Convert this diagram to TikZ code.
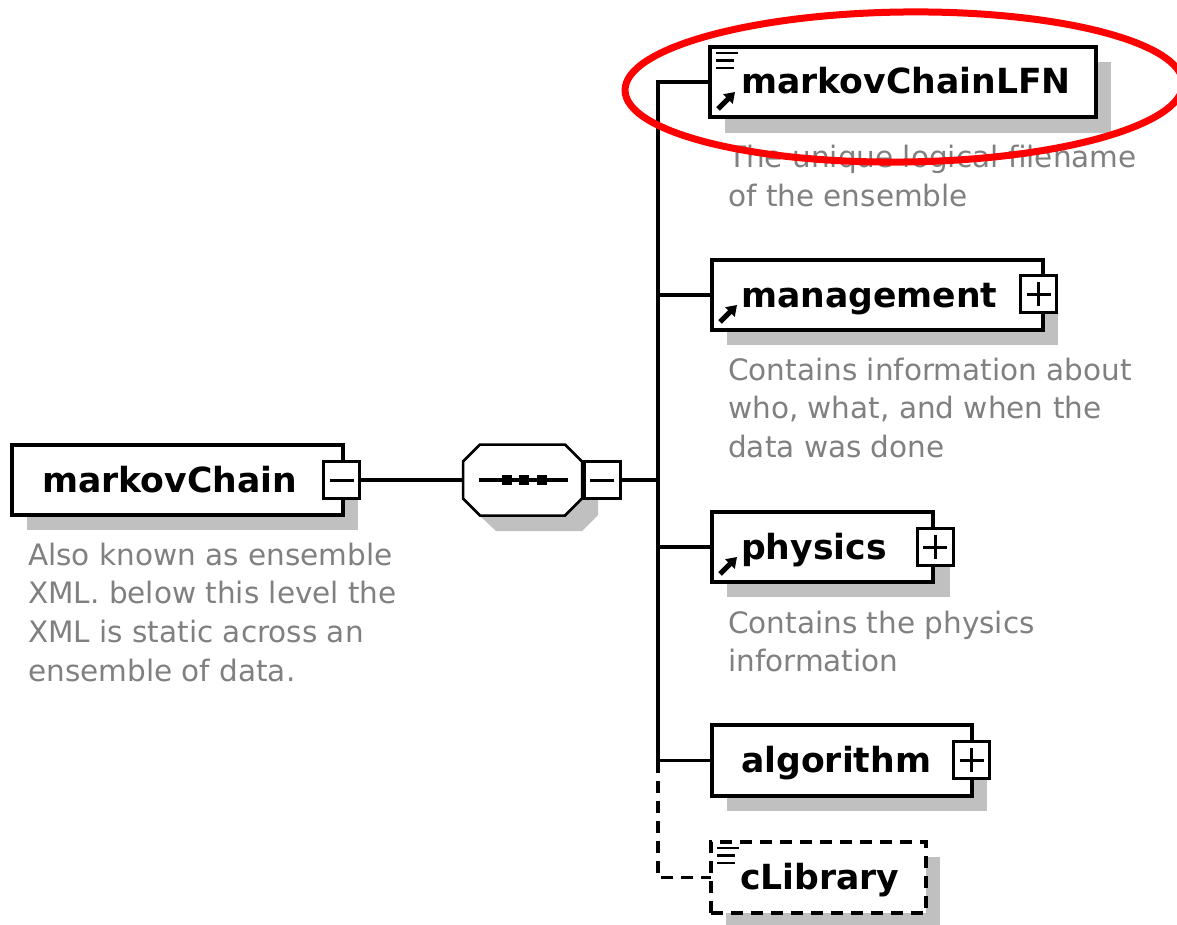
\documentclass[tikz,border=0pt]{standalone}
\usepackage{fontspec}
\setmainfont{DejaVu Sans}
\usetikzlibrary{arrows.meta}
\definecolor{shadowgray}{HTML}{C0C0C0}
\definecolor{descgray}{HTML}{808080}
\begin{document}
\begin{tikzpicture}[x=1pt,y=-1pt,
  elbox/.style={draw, fill=white, line width=3.3pt, anchor=north west, inner sep=0pt, outer sep=0pt},
  optbox/.style={elbox, dash pattern=on 12pt off 8pt},
  elname/.style={font=\fontsize{34.6}{40}\selectfont\bfseries, anchor=base west, inner sep=0pt},
  desc/.style={font=\fontsize{29.5}{38.7}\selectfont, text=descgray, anchor=north west, align=left, inner sep=0pt},
  pmbox/.style={draw, fill=white, line width=3pt, minimum width=36pt, minimum height=37pt, inner sep=0pt, outer sep=0pt},
  minusbox/.style={pmbox, path picture={\draw[line width=3pt] ([xshift=-12pt]path picture bounding box.center) -- ([xshift=12pt]path picture bounding box.center);}},
  plusbox/.style={pmbox, path picture={\draw[line width=3pt] ([xshift=-12pt]path picture bounding box.center) -- ([xshift=12pt]path picture bounding box.center) ([yshift=-12pt]path picture bounding box.center) -- ([yshift=12pt]path picture bounding box.center);}},
  conn/.style={line width=3.3pt},
  optconn/.style={line width=3.3pt, dash pattern=on 12pt off 8pt},
  icon/.style={line width=2.6pt},
  refarrow/.style={line width=5pt, -{Triangle[length=10pt,width=13pt]}},
  shadowfill/.style={fill=shadowgray}
]
\useasboundingbox (0,0) rectangle (1177,925);

% shadows
\fill[shadowfill] (27,460) rectangle (358,530);
\fill[shadowfill] (496,460) -- (582,460) -- (598,476) -- (598,515) -- (582,531) -- (496,531) -- (479,515) -- (479,476) -- cycle;
\fill[shadowfill] (725,62) rectangle (1111,133);
\fill[shadowfill] (727,275) rectangle (1058,345);
\fill[shadowfill] (727,527) rectangle (950,597);
\fill[shadowfill] (727,740) rectangle (987,811);
\fill[shadowfill] (726,857) rectangle (940,928);

% junction coordinates
\coordinate (trunk) at (658,480);
\coordinate (j2) at (658,295);
\coordinate (j3) at (658,547);
\coordinate (j4) at (658,760.5);

% root element
\node[elbox, minimum width=331pt, minimum height=70pt] (mc) at (12,445) {};
\node[elname] at (42,492) {markovChain};
\node[minusbox] (mcm) at (341.5,480) {};

% sequence compositor
\node[minimum width=119pt, minimum height=71pt, anchor=north west, inner sep=0pt, outer sep=0pt] (seq) at (463,444.5) {};
\draw[line width=2.5pt, fill=white] ([xshift=17pt]seq.north west) -- ([xshift=-17pt]seq.north east) -- ([yshift=-17pt]seq.north east) -- ([yshift=17pt]seq.south east) -- ([xshift=-17pt]seq.south east) -- ([xshift=17pt]seq.south west) -- ([yshift=17pt]seq.south west) -- ([yshift=-17pt]seq.north west) -- cycle;
\draw[line width=3.3pt] (479,480) -- (568,480);
\fill (502,475) rectangle (512,485);
\fill (519,475) rectangle (529,485);
\fill (537,475) rectangle (547,485);
\node[minusbox] (seqm) at (602,480) {};

% children
\node[elbox, minimum width=386pt, minimum height=70pt] (lfn) at (710,47) {};
\node[elname] at (741,94) {markovChainLFN};

\node[elbox, minimum width=331pt, minimum height=70pt] (mgmt) at (712,260) {};
\node[elname] at (741,307) {management};
\node[plusbox] (mgmtp) at (1038.5,294) {};

\node[elbox, minimum width=221pt, minimum height=70pt] (phys) at (712,512) {};
\node[elname] at (741,559) {physics};
\node[plusbox] (physp) at (935,547) {};

\node[elbox, minimum width=260pt, minimum height=71pt] (alg) at (712,725) {};
\node[elname] at (741,772) {algorithm};
\node[plusbox] (algp) at (971.5,760) {};

\node[optbox, minimum width=215pt, minimum height=71pt] (clib) at (711,842) {};
\node[elname] at (740,889) {cLibrary};

% icons
\draw[icon] ([xshift=6pt,yshift=-6pt]lfn.north west) -- ++(22,0);
\draw[icon] ([xshift=6pt,yshift=-13.5pt]lfn.north west) -- ++(18,0);
\draw[icon] ([xshift=6pt,yshift=-21pt]lfn.north west) -- ++(18,0);
\draw[icon] ([xshift=6pt,yshift=-6pt]clib.north west) -- ++(22,0);
\draw[icon] ([xshift=6pt,yshift=-13.5pt]clib.north west) -- ++(18,0);
\draw[icon] ([xshift=6pt,yshift=-21pt]clib.north west) -- ++(18,0);
\draw[refarrow] ([xshift=8pt,yshift=8pt]lfn.south west) -- ++(17,-17);
\draw[refarrow] ([xshift=8pt,yshift=8pt]mgmt.south west) -- ++(17,-17);
\draw[refarrow] ([xshift=8pt,yshift=8pt]phys.south west) -- ++(17,-17);

% connectors
\draw[conn] (mcm.east) -- (seq.west);
\draw[conn] (seqm.east) -- (trunk);
\draw[conn] (lfn.west) -| (j4) -- (alg.west);
\draw[conn] (j2) -- (mgmt.west);
\draw[conn] (j3) -- (phys.west);
\draw[optconn] (j4) |- (clib.west);

% descriptions
\node[desc] (mcd) at (28,542.6) {Also known as ensemble\\XML. below this level the\\XML is static across an\\ensemble of data.};
\node[desc] (lfnd) at (728,145) {The unique logical filename\\of the ensemble};
\node[desc] (mgmtd) at (728,357.6) {Contains information about\\who, what, and when the\\data was done};
\node[desc] (physd) at (728,610.6) {Contains the physics\\information};

% highlight
\draw[red, line width=7pt, rotate around={0.7:(904,87)}] (904,87) ellipse [x radius=279, y radius=75];
\end{tikzpicture}
\end{document}
